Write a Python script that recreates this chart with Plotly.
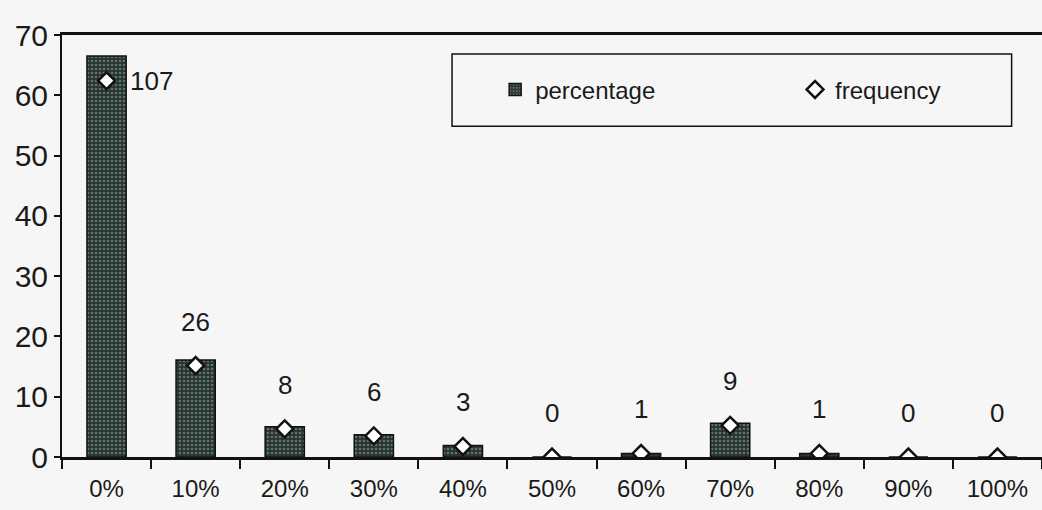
import plotly.graph_objects as go

# Categories and values
categories = ["0%", "10%", "20%", "30%", "40%", "50%", "60%", "70%", "80%", "90%", "100%"]
frequency = [107, 26, 8, 6, 3, 0, 1, 9, 1, 0, 0]
percentage = [66.5, 16.1, 5.0, 3.7, 1.9, 0.0, 0.6, 5.6, 0.6, 0.0, 0.0]
y_ticks = [0, 10, 20, 30, 40, 50, 60, 70]

FONT = "Liberation Sans, Arial, sans-serif"
INK = "#1a1a1a"
BG = "#f6f6f6"

fig = go.Figure()

fig.add_trace(go.Bar(
    x=categories, y=percentage, name="percentage",
    marker=dict(
        color="#26342f",
        line=dict(color="#111", width=1.5),
        pattern=dict(shape=".", fgcolor="#9fb0ac", size=4, solidity=0.35),
    ),
    yaxis="y", legend="legend",
))

fig.add_trace(go.Scatter(
    x=categories, y=frequency, name="frequency", mode="markers",
    marker=dict(symbol="diamond", size=13, color="white",
                line=dict(color="#111", width=2.5)),
    yaxis="y2", legend="legend2",
))

# Frequency labels
annotations = []
for i, (c, f) in enumerate(zip(categories, frequency)):
    if i == 0:
        annotations.append(dict(x=c, y=f, xref="x", yref="y2", text=str(f),
                                showarrow=False, xanchor="left", xshift=21,
                                font=dict(family=FONT, size=26, color=INK)))
    else:
        annotations.append(dict(x=c, y=f, xref="x", yref="y2", text=str(f),
                                showarrow=False, yshift=44,
                                font=dict(family=FONT, size=26, color=INK)))

legend_common = dict(orientation="h", xanchor="left", yanchor="middle", y=0.870,
                     bgcolor="rgba(0,0,0,0)", borderwidth=0,
                     font=dict(family=FONT, size=24, color=INK))

fig.update_layout(
    width=1042, height=510,
    margin=dict(l=62, r=0, t=35, b=53, autoexpand=False),
    paper_bgcolor=BG, plot_bgcolor=BG,
    bargap=0.56,
    showlegend=True,
    legend=dict(x=0.442, **legend_common),
    legend2=dict(x=0.748, **legend_common),
    xaxis=dict(
        automargin=False, range=[-0.5, len(categories) - 0.5],
        showline=True, linecolor="#111", linewidth=2.5, mirror=True,
        ticks="outside", ticklen=9, tickwidth=1.5, tickcolor="#111",
        tickson="boundaries", showgrid=False,
        tickfont=dict(family=FONT, size=24, color=INK),
        ticklabelstandoff=8,
    ),
    yaxis=dict(
        automargin=False,
        range=[0, 70], tickvals=y_ticks,
        showline=True, linecolor="#111", linewidth=2,
        ticks="outside", ticklen=6, tickwidth=1.5, tickcolor="#111",
        showgrid=False, zeroline=False,
        tickfont=dict(family=FONT, size=30, color=INK),
    ),
    yaxis2=dict(range=[0, 120], overlaying="y", side="right", visible=False),
    annotations=annotations,
    shapes=[dict(type="rect", xref="paper", yref="paper",
                 x0=0.398, x1=0.969, y0=0.784, y1=0.955,
                 line=dict(color="#111", width=1.5), fillcolor="rgba(0,0,0,0)")],
)

fig.write_html("out.html")
